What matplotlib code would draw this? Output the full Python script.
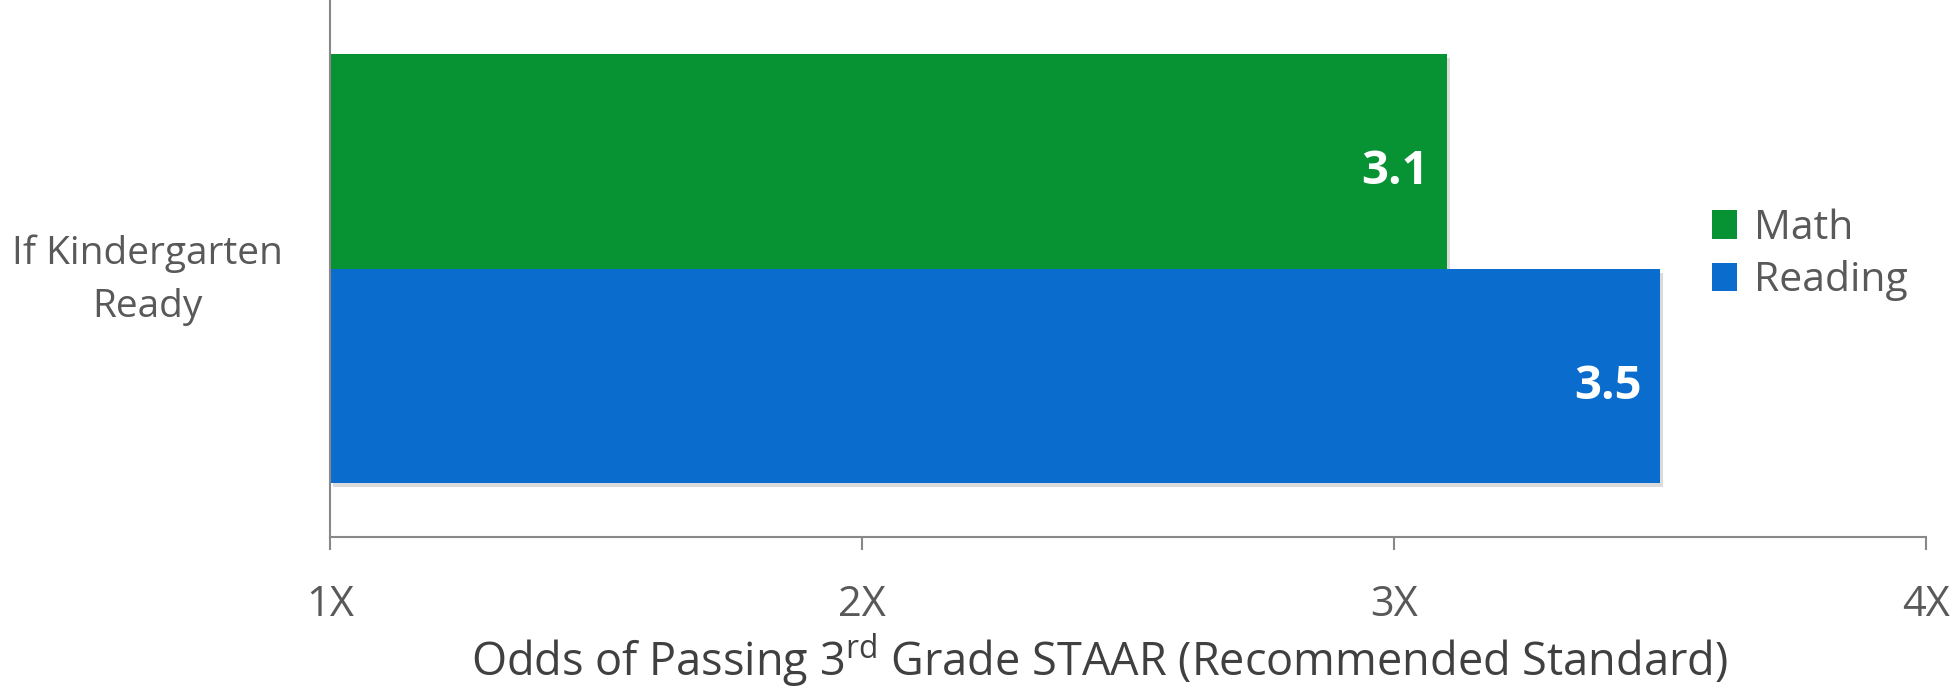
import numpy as np
import matplotlib
matplotlib.use("Agg")
import matplotlib.pyplot as plt
import matplotlib.patheffects as pe

plt.rcParams['font.family'] = ['Open Sans', 'DejaVu Sans']

# data
category = ["If Kindergarten\nReady"]
series = ["Math", "Reading"]
values = [3.1, 3.5]
colors = ["#079233", "#0A6DCD"]
xticks = [1, 2, 3, 4]
xticklabels = ["1X", "2X", "3X", "4X"]
base = 1

fig = plt.figure(figsize=(19.54, 6.88), dpi=100)
ax = fig.add_axes([330/1954, 1-537/688, (1926-330)/1954, 537/688])

h = 0.4
offsets = [h/2, -h/2]
for i, (s, v, c) in enumerate(zip(series, values, colors)):
    b = ax.barh(0 + offsets[i], v - base, left=base, height=h, color=c, label=s)
    for p in b:
        p.set_path_effects([pe.SimplePatchShadow(offset=(2, -3), shadow_rgbFace="#999999", alpha=0.35), pe.Normal()])
    ax.text(v - 0.035, 0 + offsets[i] - 0.02, f"{v:.1f}", ha="right", va="center",
            color="white", fontsize=34, fontweight="bold")

ax.set_xlim(1, 4)
ax.set_ylim(-0.5, 0.5)
ax.set_xticks(xticks)
ax.set_xticklabels(xticklabels)
ax.set_yticks([0])
ax.set_yticklabels(category, multialignment="center", linespacing=1.5)

for side in ["top", "right"]:
    ax.spines[side].set_visible(False)
for side in ["left", "bottom"]:
    ax.spines[side].set_color("#888888")
    ax.spines[side].set_linewidth(1.5)

ax.tick_params(axis="x", length=9.5, width=1.5, color="#888888", pad=24,
               labelsize=30, labelcolor="#595959")
ax.tick_params(axis="y", length=0, pad=34, labelsize=28, labelcolor="#595959")
ax.set_xlabel(r"Odds of Passing 3$^{\mathregular{rd}}$ Grade STAAR (Recommended Standard)",
              fontsize=32.5, color="#404040")
ax.xaxis.set_label_coords(0.482, -0.175)

leg = fig.legend(loc="center left", bbox_to_anchor=(1712/1954, 1-255/688), frameon=False,
                 fontsize=29.5, handlelength=0.62, handleheight=0.7, handletextpad=0.4,
                 labelspacing=0.28, borderpad=0, borderaxespad=0)
for t in leg.get_texts():
    t.set_color("#595959")
for hnd in leg.legend_handles:
    hnd.set_path_effects([])

fig.savefig("out.png", dpi=100)
